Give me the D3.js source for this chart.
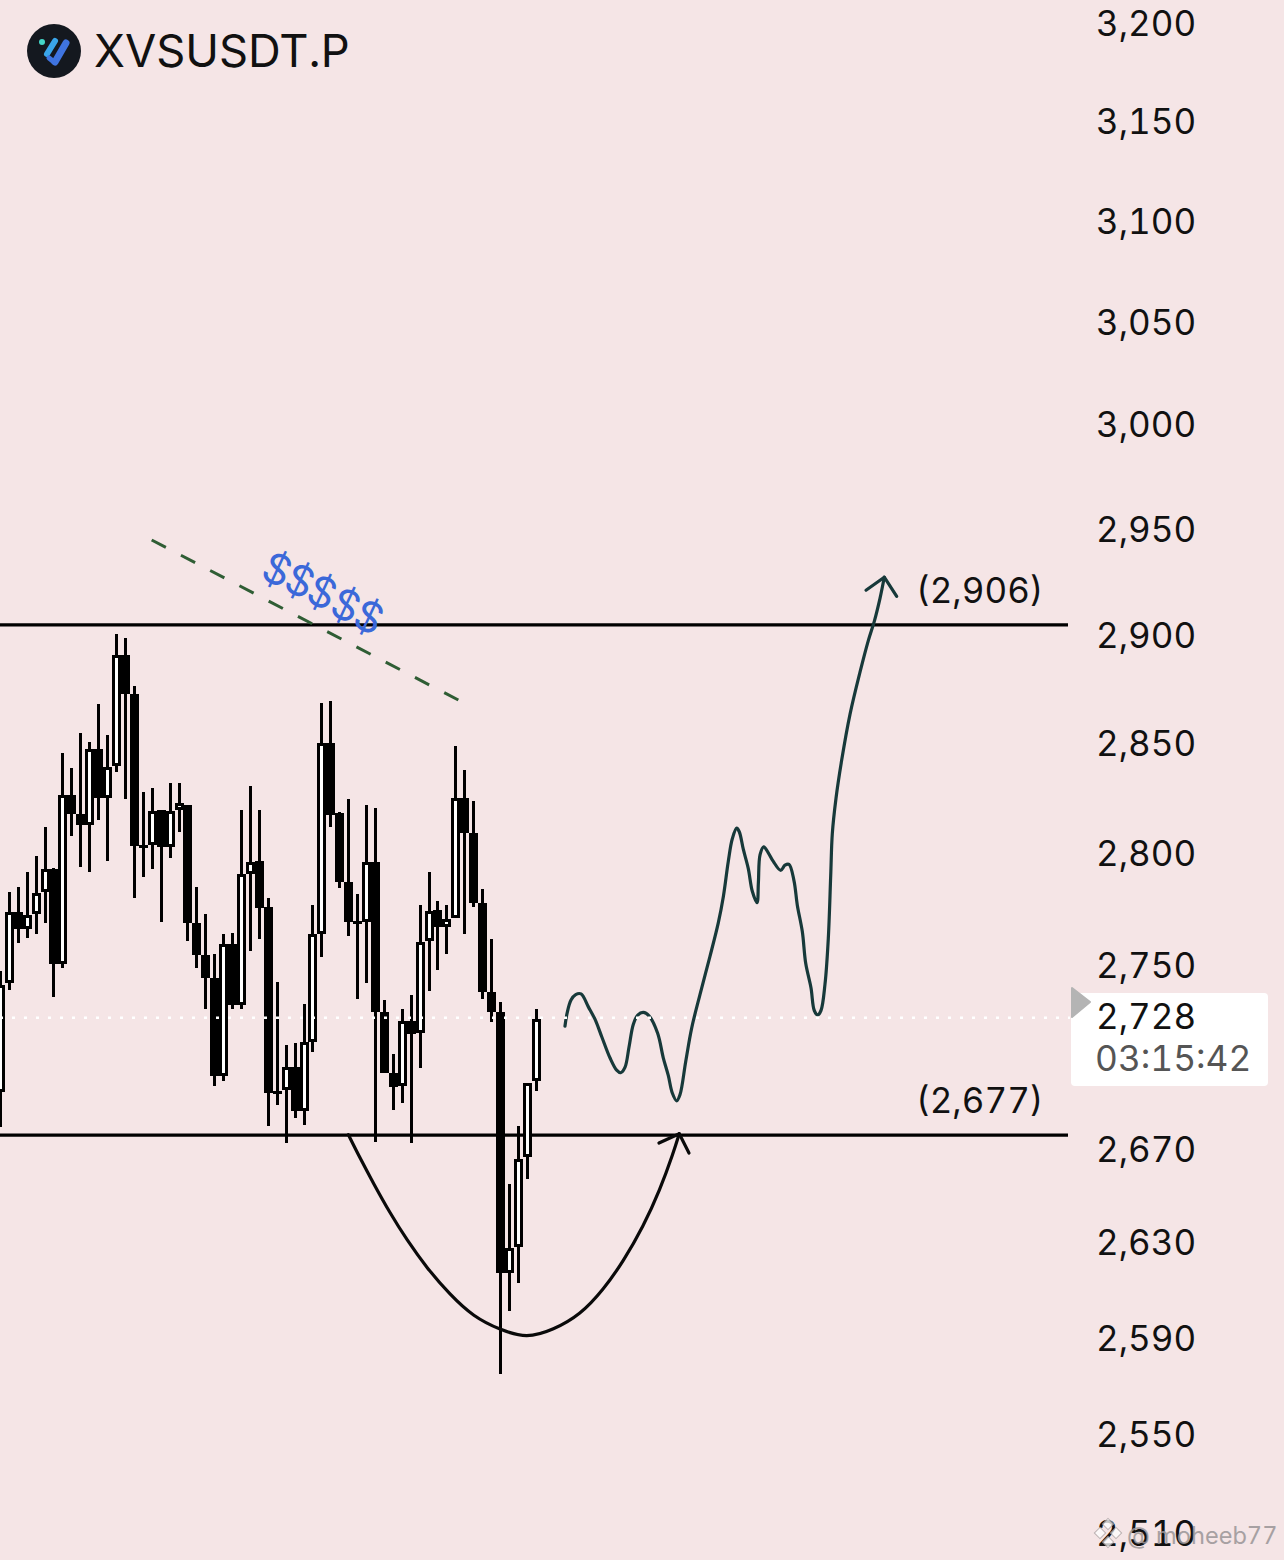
<!DOCTYPE html>
<html>
<head>
<meta charset="utf-8">
<script src="https://d3js.org/d3.v7.min.js"></script>
<style>
    html, body { margin: 0; padding: 0; background: #f5e5e6; }
    svg { display: block; }
    text { font-family: Inter, "Liberation Sans", sans-serif; font-variant-numeric: tabular-nums; }
</style>
</head>
<body>
<script>
//candles, oldest first
var opens = [2695.8,2743.4,2775.0,2767.4,2774.1,2783.9,2793.9,2751.8,2827.6,2819.0,2814.0,2848.6,2826.4,2840.7,2891.8,2873.8,2805.0,2805.0,2820.8,2804.0,2820.8,2823.2,2769.8,2755.8,2745.6,2702.6,2760.6,2733.7,2791.9,2797.7,2777.2,2696.1,2696.5,2706.5,2687.5,2717.5,2765.1,2851.1,2819.5,2788.4,2771.0,2770.5,2797.3,2730.6,2703.8,2698.2,2726.7,2721.4,2762.0,2775.9,2768.3,2772.3,2826.4,2810.4,2779.0,2739.4,2730.6,2618.4,2629.4,2667.7,2700.4];
var closes = [2742.5,2775.0,2767.4,2773.6,2783.4,2793.9,2751.8,2827.6,2819.0,2814.0,2848.6,2826.4,2840.3,2891.8,2873.8,2804.5,2804.5,2820.4,2804.0,2820.4,2823.8,2769.8,2755.8,2745.6,2702.6,2760.6,2733.7,2791.9,2797.3,2776.7,2695.3,2695.3,2706.5,2687.5,2717.5,2765.1,2851.1,2818.6,2788.4,2770.5,2770.5,2797.3,2730.6,2703.8,2697.8,2726.7,2721.0,2761.6,2775.4,2768.3,2771.8,2826.2,2810.4,2779.0,2739.4,2730.6,2618.4,2629.0,2666.8,2699.5,2727.6];
var highs = [2748.4,2783.9,2786.1,2792.8,2800.0,2813.1,2794.4,2846.6,2839.8,2855.8,2851.6,2869.5,2854.9,2902.0,2900.1,2877.6,2829.0,2830.8,2820.8,2833.1,2833.1,2823.2,2786.1,2774.1,2756.2,2765.1,2765.5,2820.8,2831.7,2820.8,2781.2,2743.8,2716.2,2717.1,2734.2,2777.8,2869.7,2870.6,2819.9,2825.8,2783.0,2823.0,2821.6,2735.9,2712.2,2732.0,2738.1,2778.1,2792.8,2779.9,2778.1,2849.8,2838.9,2824.9,2785.2,2762.9,2735.0,2656.1,2681.0,2699.5,2732.0];
var lows = [2680.6,2740.3,2761.1,2763.4,2765.1,2770.0,2737.2,2750.0,2809.0,2795.0,2792.8,2816.4,2797.7,2838.0,2825.8,2781.2,2790.4,2794.2,2770.3,2799.1,2810.8,2762.0,2750.0,2732.0,2698.2,2700.4,2732.0,2732.0,2757.5,2762.9,2681.0,2690.1,2673.7,2684.5,2681.5,2713.1,2754.9,2813.1,2785.7,2764.2,2736.4,2743.4,2674.1,2703.8,2687.9,2690.9,2673.7,2706.1,2739.9,2749.1,2756.2,2772.3,2765.1,2777.2,2736.4,2726.2,2576.2,2602.4,2614.2,2658.2,2696.1];

//price axis
var priceTicks = [3200,3150,3100,3050,3000,2950,2900,2850,2800,2750,2670,2630,2590,2550,2510];
var lastPrice = 2728;
var countdown = "03:15:42";
var symbol = "XVSUSDT.P";

//horizontal levels
var levels = [2906, 2677];
var levelLabels = ["(2,906)", "(2,677)"];
var levelLabelPrices = [2922, 2692];

//hand drawn forecast squiggle, in bars and prices
var squiggleBars = [63.22,63.48,63.9,64.42,65.02,65.84,66.58,67.34,68.26,69.01,69.46,69.94,70.39,70.87,71.37,71.99,72.63,73.6,74.23,74.79,75.24,75.73,76.1,76.74,77.41,78.34,79.46,80.39,80.96,81.51,81.96,82.45,82.74,83.19,83.75,84.2,84.73,84.88,85.07,85.48,85.99,86.55,87.38,87.86,88.31,88.87,89.24,89.8,90.18,90.77,91.14,91.52,91.89,92.34,92.71,92.98,93.16,93.57,94.21,95.14,96.26,97.19,97.86,98.5,98.98];
var squigglePrices = [2724.3,2730.4,2735.8,2738.2,2738.5,2732.8,2727.4,2719.7,2710.5,2705.1,2704.0,2706.3,2715.1,2725.1,2729.2,2730.4,2728.9,2721.2,2710.5,2702.8,2695.2,2691.8,2694.4,2708.8,2723.5,2738.2,2755.1,2770.0,2781.8,2797.5,2807.7,2812.5,2810.9,2803.0,2794.3,2784.1,2779.0,2788.0,2800.6,2804.1,2801.4,2797.5,2793.5,2795.8,2796.2,2788.8,2777.9,2766.1,2752.0,2741.2,2731.2,2729.3,2731.2,2742.8,2763.0,2791.2,2810.1,2826.0,2843.5,2864.5,2884.0,2898.7,2907.7,2918.5,2928.4];
var squiggleHeadBars = [96.93,98.98,100.37];
var squiggleHeadPrices = [2922.3,2928.4,2919.4];

//curved arrow under the range
var arcBars = [38.96,40.27,41.76,43.63,45.5,47.74,50.35,52.96,55.95,58.94,61.92,64.91,67.52,69.75,71.99,73.86,75.35,76.02];
var arcPrices = [2677.2,2667.1,2656.4,2643.6,2632.3,2620.4,2609.1,2599.9,2594.4,2590.8,2594.4,2600.6,2611.2,2623.1,2637.9,2653.5,2669.3,2677.6];
var arcHeadBars = [73.75,76.02,77.11];
var arcHeadPrices = [2673.6,2677.6,2669.3];

//dashed trend line and the dollar signs on it
var trendBars = [16.94,51.28];
var trendPrices = [2946.0,2871.1];
var dollarBars = [31.0,33.55,36.05,38.7,41.3];
var dollarPrices = [2932.2,2926.9,2921.4,2915.4,2909.9];

window.onload = drawChart();

function drawChart(){

    var width = 1284,
        height = 1560;

    var svg = d3.select("body")
        .append("svg")
        .attr("width", width)
        .attr("height", height);

    svg.append("rect")
        .attr("width", width)
        .attr("height", height)
        .attr("fill", "#f5e5e6");

    var x = d3.scaleLinear().domain([0, 60]).range([0.4, 536.2]);
    var y = d3.scaleLog().domain([2510, 3200]).range([1535.4, 26]);

    var bodyWidth = 6,
        bodyStroke = 3;

    //price labels sit just above the value they mark
    var axis = d3.axisRight(y)
        .tickValues(priceTicks)
        .tickFormat(d3.format(","))
        .tickSize(0)
        .tickPadding(0);

    var axisGroup = svg.append("g")
        .attr("class", "axis")
        .attr("transform", "translate(1096,-1.5)")
        .call(axis);
    axisGroup.select(".domain").remove();
    axisGroup.selectAll("text")
        .attr("font-family", "Inter")
        .attr("font-size", 35)
        .attr("fill", "#111");

    //levels
    svg.selectAll(".level")
        .data(levels)
        .enter()
        .append("line")
        .attr("class", "level")
        .attr("x1", 0)
        .attr("x2", 1068)
        .attr("y1", function(d){ return y(d); })
        .attr("y2", function(d){ return y(d); })
        .attr("stroke", "#000")
        .attr("stroke-width", 3.2);

    svg.selectAll(".levelLabel")
        .data(levelLabels)
        .enter()
        .append("text")
        .attr("class", "levelLabel")
        .attr("x", 916)
        .attr("y", function(d, i){ return y(levelLabelPrices[i]); })
        .attr("dy", "0.36em")
        .attr("font-size", 35)
        .attr("fill", "#111")
        .text(function(d){ return d; });

    //trend line
    var trend = d3.line()
        .x(function(d){ return x(trendBars[d]); })
        .y(function(d){ return y(trendPrices[d]); });

    svg.append("path")
        .attr("d", trend(d3.range(trendBars.length)))
        .attr("fill", "none")
        .attr("stroke", "#2f5d34")
        .attr("stroke-width", 3)
        .attr("stroke-dasharray", "16 17");

    svg.selectAll(".dollar")
        .data(dollarBars)
        .enter()
        .append("text")
        .attr("class", "dollar")
        .attr("text-anchor", "middle")
        .attr("dy", "0.36em")
        .attr("transform", function(d, i){
            return "translate(" + x(d) + "," + y(dollarPrices[i]) + ") rotate(25)";
        })
        .attr("font-size", 42)
        .attr("fill", "#3b68d9")
        .text("$");

    //candles
    var candles = svg.selectAll(".candle")
        .data(d3.range(opens.length))
        .enter()
        .append("g")
        .attr("class", "candle")
        .attr("shape-rendering", "crispEdges");

    candles.append("line")
        .attr("x1", function(i){ return x(i); })
        .attr("x2", function(i){ return x(i); })
        .attr("y1", function(i){ return y(highs[i]); })
        .attr("y2", function(i){ return y(lows[i]); })
        .attr("stroke", "#000")
        .attr("stroke-width", 3);

    candles.append("rect")
        .attr("x", function(i){ return x(i) - bodyWidth / 2; })
        .attr("width", bodyWidth)
        .attr("y", function(i){ return y(Math.max(opens[i], closes[i])) + bodyStroke / 2; })
        .attr("height", function(i){
            return Math.max(Math.abs(y(opens[i]) - y(closes[i])) - bodyStroke, 0.5);
        })
        .attr("fill", function(i){ return closes[i] > opens[i] ? "#fff" : "#000"; })
        .attr("stroke", "#000")
        .attr("stroke-width", bodyStroke);

    //hand drawn arrows
    function drawn(bars, prices, curve, colour){
        var line = d3.line()
            .x(function(d){ return x(bars[d]); })
            .y(function(d){ return y(prices[d]); })
            .curve(curve);
        svg.append("path")
            .attr("d", line(d3.range(bars.length)))
            .attr("fill", "none")
            .attr("stroke", colour)
            .attr("stroke-width", 3.2)
            .attr("stroke-linecap", "round")
            .attr("stroke-linejoin", "round");
    }

    drawn(arcBars, arcPrices, d3.curveBasis, "#0a0a0a");
    drawn(arcHeadBars, arcHeadPrices, d3.curveLinear, "#0a0a0a");
    drawn(squiggleBars, squigglePrices, d3.curveCatmullRom, "#17393a");
    drawn(squiggleHeadBars, squiggleHeadPrices, d3.curveLinear, "#17393a");

    //last price line
    svg.append("line")
        .attr("x1", 0)
        .attr("x2", 1070)
        .attr("y1", y(lastPrice))
        .attr("y2", y(lastPrice))
        .attr("stroke", "#fff")
        .attr("stroke-width", 2.5)
        .attr("stroke-dasharray", "3 9");

    //last price box
    svg.append("rect")
        .attr("x", 1071)
        .attr("y", 993)
        .attr("width", 197)
        .attr("height", 93)
        .attr("rx", 4)
        .attr("fill", "#fff");

    svg.append("path")
        .attr("d", "M1072,988L1090,1002L1072,1017Z")
        .attr("fill", "#b4b4b4")
        .attr("stroke", "#b4b4b4")
        .attr("stroke-width", 2)
        .attr("stroke-linejoin", "round");

    svg.append("text")
        .attr("x", 1096)
        .attr("y", y(lastPrice) - 1.5)
        .attr("dy", "0.36em")
        .attr("font-size", 35)
        .attr("fill", "#111")
        .text(d3.format(",")(lastPrice));

    svg.append("text")
        .attr("x", 1095)
        .attr("y", 1058)
        .attr("dy", "0.36em")
        .attr("font-size", 35.3)
        .attr("fill", "#555")
        .text(countdown);

    //title and logo
    svg.append("circle")
        .attr("cx", 54)
        .attr("cy", 51)
        .attr("r", 27)
        .attr("fill", "#14181f");

    svg.append("circle")
        .attr("cx", 42)
        .attr("cy", 42)
        .attr("r", 3)
        .attr("fill", "#45d6c8");

    svg.append("path")
        .attr("d", "M55,41L47,54")
        .attr("stroke", "#3aa5ea")
        .attr("stroke-width", 6)
        .attr("stroke-linecap", "round");

    svg.append("path")
        .attr("d", "M49,58L54,62")
        .attr("stroke", "#3f74e0")
        .attr("stroke-width", 5)
        .attr("stroke-linecap", "round");

    svg.append("path")
        .attr("d", "M66,43L55,62")
        .attr("stroke", "#3f74e0")
        .attr("stroke-width", 7)
        .attr("stroke-linecap", "round");

    svg.append("text")
        .attr("x", 94)
        .attr("y", 67)
        .attr("font-size", 45.3)
        .attr("fill", "#111")
        .text(symbol);

    //watermark
    var mark = svg.append("g")
        .attr("fill", "#fff")
        .attr("opacity", 0.75)
        .attr("stroke", "#a8a0a0");
    [[1108,1524],[1100,1533],[1116,1533],[1108,1542]].forEach(function(p){
        mark.append("rect")
            .attr("x", -4)
            .attr("y", -4)
            .attr("width", 8)
            .attr("height", 8)
            .attr("transform", "translate(" + p[0] + "," + p[1] + ") rotate(45)");
    });

    svg.append("text")
        .attr("x", 1127)
        .attr("y", 1544)
        .attr("font-size", 23.6)
        .attr("fill", "#9a9597")
        .attr("opacity", 0.85)
        .text("@ moheeb77");
}
</script>
</body>
</html>
